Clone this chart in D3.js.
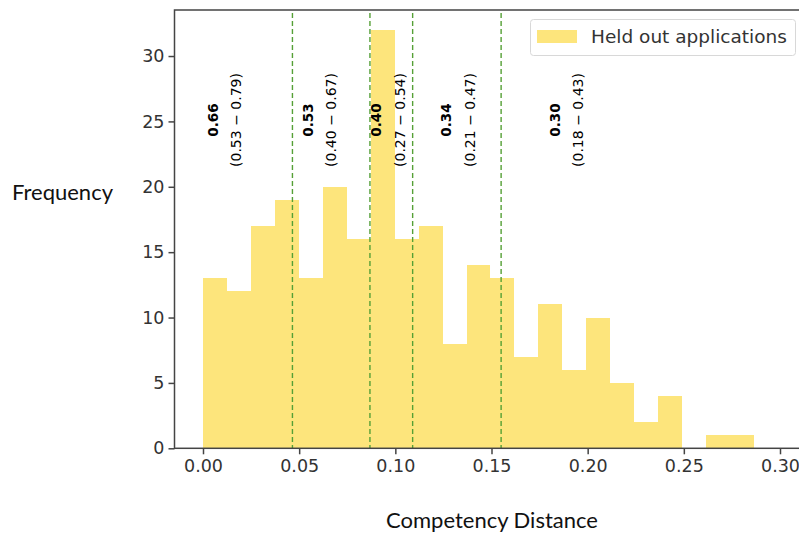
<!DOCTYPE html>
<html>
<head>
<meta charset="utf-8">
<script src="https://cdn.jsdelivr.net/npm/d3@7"></script>
<style>
    body { margin: 0; background: #fff; }
    .axis text { font-family: "DejaVu Sans", sans-serif; font-size: 17.5px; fill: #333; }
    .axis path, .axis line { stroke: #444; stroke-width: 1.5px; }
</style>
</head>
<body>
<div class="chart"></div>
<script>
// histogram counts, 23 equal bins
var counts = [13, 12, 17, 19, 13, 20, 16, 32, 16, 17, 8, 14, 13, 7, 11, 6, 10, 5, 2, 4, 0, 1, 1];
var binMin = 0,
    binMax = 0.2865;

var xTicks = [0, 0.05, 0.10, 0.15, 0.20, 0.25, 0.30];
var yTicks = [0, 5, 10, 15, 20, 25, 30];

// dashed threshold lines
var thresholds = [0.0465, 0.0868, 0.1090, 0.1550];

// rotated annotations
var annotX = [0.0052, 0.0547, 0.0903, 0.1267, 0.1830];
var annotValue = ["0.66", "0.53", "0.40", "0.34", "0.30"];
var annotRange = ["(0.53 \u2212 0.79)", "(0.40 \u2212 0.67)", "(0.27 \u2212 0.54)", "(0.21 \u2212 0.47)", "(0.18 \u2212 0.43)"];

var seriesName = "Held out applications";

var W = 799, H = 533;
var plotLeft = 174.5, plotRight = 812, plotTop = 10, plotBottom = 448.3;

var barColor = "#fde57c",
    lineColor = "#55a036";

var svg = d3.select(".chart").append("svg")
    .attr("width", W)
    .attr("height", H);

var x = d3.scaleLinear().domain([0, 0.30]).range([203, 780]);
var y = d3.scaleLinear().domain([0, 33.52]).range([plotBottom, plotTop]);

var binW = (binMax - binMin) / counts.length;

//bars
svg.append("g").selectAll("rect")
    .data(counts)
    .enter()
    .append("rect")
    .attr("x", function (d, i) { return x(binMin + i * binW); })
    .attr("width", function (d, i) { return x(binMin + (i + 1) * binW) - x(binMin + i * binW); })
    .attr("y", function (d) { return y(d); })
    .attr("height", function (d) { return y(0) - y(d); })
    .attr("shape-rendering", "crispEdges")
    .style("fill", barColor);

//dashed lines
svg.append("g").selectAll("line")
    .data(thresholds)
    .enter()
    .append("line")
    .attr("x1", function (d) { return x(d); })
    .attr("x2", function (d) { return x(d); })
    .attr("y1", plotTop + 3)
    .attr("y2", plotBottom)
    .style("stroke", lineColor)
    .style("stroke-width", 1.4)
    .style("stroke-dasharray", "5,3");

//annotations
var ann = svg.append("g").selectAll("g")
    .data(annotX)
    .enter()
    .append("g")
    .attr("transform", function (d) { return "translate(" + x(d) + ",120) rotate(-90)"; });

ann.append("text")
    .attr("text-anchor", "middle")
    .attr("dy", "0.35em")
    .style("font-family", "DejaVu Sans, sans-serif")
    .style("font-size", "13.5px")
    .style("font-weight", "bold")
    .text(function (d, i) { return annotValue[i]; });

ann.append("text")
    .attr("text-anchor", "middle")
    .attr("y", 23)
    .attr("dy", "0.35em")
    .style("font-family", "DejaVu Sans, sans-serif")
    .style("font-size", "14px")
    .text(function (d, i) { return annotRange[i]; });

//axes
svg.append("g")
    .attr("class", "axis")
    .attr("transform", "translate(0," + plotBottom + ")")
    .call(d3.axisBottom(x).tickValues(xTicks).tickFormat(d3.format(".2f")).tickSize(6).tickPadding(5).tickSizeOuter(0));

svg.append("g")
    .attr("class", "axis")
    .attr("transform", "translate(" + plotLeft + ",0)")
    .call(d3.axisLeft(y).tickValues(yTicks).tickSize(6).tickPadding(4).tickSizeOuter(0));

// spines
svg.selectAll(".axis .domain").remove();
svg.append("rect")
    .attr("x", plotLeft)
    .attr("y", plotTop)
    .attr("width", plotRight - plotLeft)
    .attr("height", plotBottom - plotTop)
    .style("fill", "none")
    .style("stroke", "#444")
    .style("stroke-width", 1.5);

//legend
var legend = svg.append("g");
legend.append("rect")
    .attr("x", 530.5).attr("y", 19.5)
    .attr("width", 265).attr("height", 36)
    .attr("rx", 3)
    .style("fill", "#fff")
    .style("stroke", "#d8d8d8");
legend.append("rect")
    .attr("x", 537).attr("y", 30)
    .attr("width", 40).attr("height", 13)
    .style("fill", barColor);
legend.append("text")
    .attr("x", 591)
    .attr("y", 37)
    .attr("dy", "0.35em")
    .style("font-family", "DejaVu Sans, sans-serif")
    .style("font-size", "18.5px")
    .style("fill", "#333")
    .text(seriesName);

//axis titles
svg.append("text")
    .attr("x", 12)
    .attr("y", 192)
    .attr("dy", "0.35em")
    .style("font-family", "Lato, sans-serif")
    .style("font-size", "22px")
    .style("fill", "#111")
    .text("Frequency");

svg.append("text")
    .attr("x", 492)
    .attr("y", 520)
    .attr("dy", "0.35em")
    .attr("text-anchor", "middle")
    .style("font-family", "Lato, sans-serif")
    .style("font-size", "22px")
    .style("fill", "#111")
    .text("Competency Distance");
</script>
</body>
</html>
